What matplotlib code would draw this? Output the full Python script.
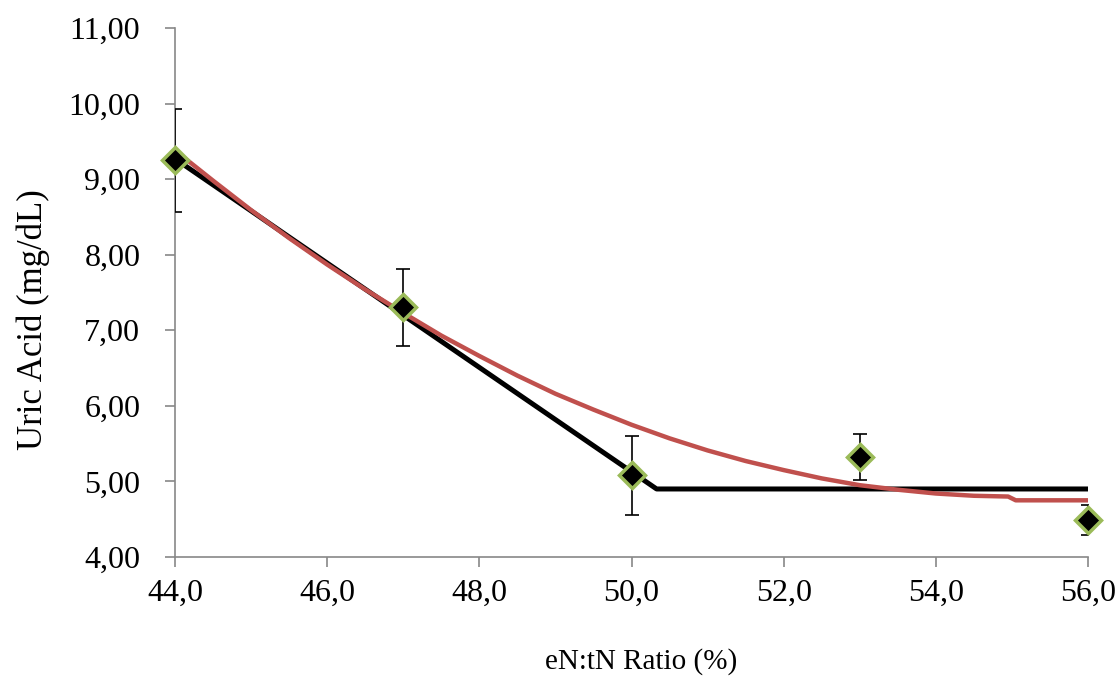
import matplotlib
matplotlib.use('Agg')
import matplotlib.pyplot as plt
from matplotlib.ticker import FuncFormatter, MultipleLocator

plt.rcParams['font.family'] = ['Liberation Serif', 'DejaVu Serif']

# observed means with error bars
ratio = [44, 47, 50, 53, 56]
uric = [9.25, 7.31, 5.09, 5.32, 4.49]
err_low = [0.68, 0.52, 0.54, 0.30, 0.20]
err_high = [0.68, 0.50, 0.51, 0.31, 0.20]

# broken-line fit (black)
bl_x = [44, 50.33, 56]
bl_y = [9.27, 4.90, 4.90]

# quadratic-plateau fit (red)
qp_x = [44, 44.5, 45, 45.5, 46, 46.5, 47, 47.5, 48, 48.5, 49, 49.5, 50,
        50.5, 51, 51.5, 52, 52.5, 53, 53.5, 54, 54.5, 54.95, 55.05, 56]
qp_y = [9.38, 8.98, 8.59, 8.22, 7.87, 7.54, 7.23, 6.93, 6.66, 6.40, 6.16, 5.95, 5.75,
        5.57, 5.41, 5.27, 5.15, 5.04, 4.95, 4.89, 4.84, 4.81, 4.80, 4.75, 4.75]

fig = plt.figure(figsize=(11.2, 6.81), dpi=100)
ax = fig.add_axes([0.15625, 0.1821, 0.8152, 0.7768])

ax.plot(bl_x, bl_y, color='black', lw=3.6, solid_capstyle='butt', zorder=2)
ax.plot(qp_x, qp_y, color='#C0504D', lw=3.2, solid_capstyle='butt',
        solid_joinstyle='round', zorder=3)
ax.errorbar(ratio, uric, yerr=[err_low, err_high], fmt='none', ecolor='black',
            elinewidth=1.2, capsize=5, capthick=1.2, zorder=4)
ax.plot(ratio, uric, linestyle='none', marker='D', markersize=13,
        markerfacecolor='black', markeredgecolor='#9BBB59', markeredgewidth=2.5,
        zorder=5, clip_on=False)

ax.set_xlim(44, 56)
ax.set_ylim(4, 11)
ax.xaxis.set_major_locator(MultipleLocator(2))
ax.yaxis.set_major_locator(MultipleLocator(1))
ax.xaxis.set_major_formatter(FuncFormatter(lambda v, p: f'{v:.1f}'.replace('.', ',')))
ax.yaxis.set_major_formatter(FuncFormatter(lambda v, p: f'{v:.2f}'.replace('.', ',')))

for s in ['top', 'right']:
    ax.spines[s].set_visible(False)
for s in ['left', 'bottom']:
    ax.spines[s].set_color('#888888')
    ax.spines[s].set_linewidth(1.2)
ax.tick_params(direction='out', length=7, width=1.2, color='#888888', labelsize=23)
ax.tick_params(axis='x', pad=9)
ax.tick_params(axis='y', pad=18)

ax.set_xlabel('eN:tN Ratio (%)', fontsize=21)
ax.xaxis.set_label_coords(0.511, -0.172)
ax.set_ylabel('Uric Acid (mg/dL)', fontsize=25)
ax.yaxis.set_label_coords(-0.137, 0.448)

fig.savefig('out.png', dpi=100)
